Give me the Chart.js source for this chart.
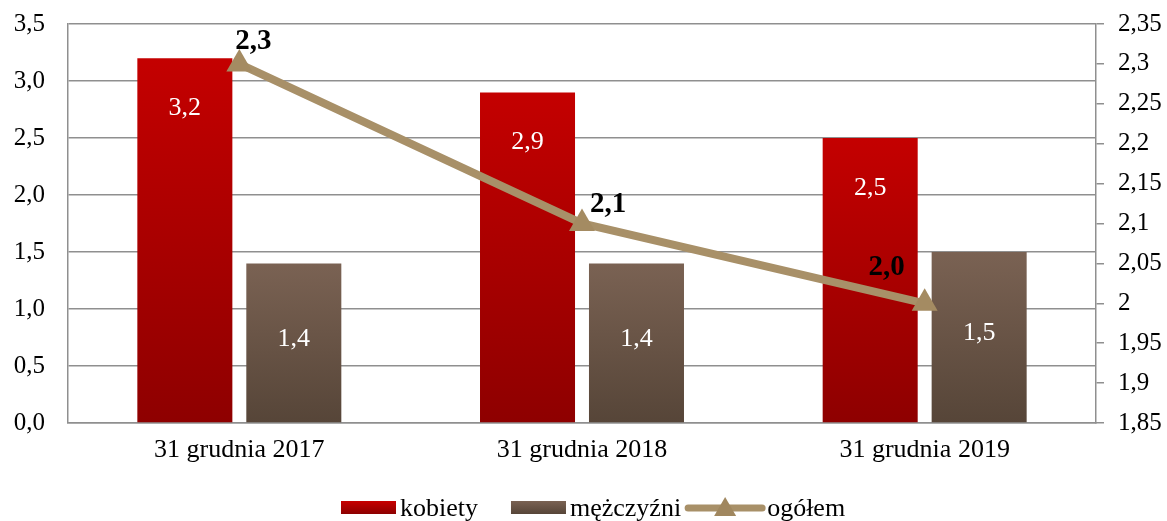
<!DOCTYPE html>
<html>
<head>
<meta charset="utf-8">
<script src="https://cdn.jsdelivr.net/npm/chart.js@4.4.1/dist/chart.umd.min.js"></script>
<style>
html,body{margin:0;padding:0;background:#fff;}
#wrap{width:1167px;height:521px;position:relative;}
</style>
</head>
<body>
<div id="wrap"><canvas id="c" width="1167" height="521"></canvas></div>
<script>
const categories = ['31 grudnia 2017', '31 grudnia 2018', '31 grudnia 2019'];
const kobiety = [3.2, 2.9, 2.5];
const mezczyzni = [1.4, 1.4, 1.5];
const ogolem = [2.3, 2.1, 2.0];
const leftTicks = [0, 0.5, 1.0, 1.5, 2.0, 2.5, 3.0, 3.5];
const rightTicks = [1.85, 1.9, 1.95, 2.0, 2.05, 2.1, 2.15, 2.2, 2.25, 2.3, 2.35];
const seriesNames = ['kobiety', 'mężczyźni', 'ogółem'];

const FONT = '"Liberation Serif", "Times New Roman", serif';
const GRID = '#8f8f8f';
const LINE = '#a89068';

function fmtLeft(v){ return v.toFixed(1).replace('.', ','); }
function fmtRight(v){ return String(+v.toFixed(2)).replace('.', ','); }

function barGradient(c1, c2){
  return function(ctx){
    const chart = ctx.chart;
    if (!chart.chartArea || ctx.type !== 'data') return c1;
    const y = chart.scales.y;
    const yt = y.getPixelForValue(ctx.raw);
    const yb = y.getPixelForValue(0);
    const g = chart.ctx.createLinearGradient(0, yt, 0, yb);
    g.addColorStop(0, c1);
    g.addColorStop(1, c2);
    return g;
  };
}

const labelPlugin = {
  id: 'labels',
  afterDatasetsDraw(chart){
    const ctx = chart.ctx;
    ctx.save();
    ctx.textAlign = 'center';
    ctx.textBaseline = 'middle';
    ctx.fillStyle = '#ffffff';
    ctx.font = '26px ' + FONT;
    chart.getDatasetMeta(0).data.forEach((el, i) => {
      ctx.fillText(fmtLeft(kobiety[i]), el.x, el.y + 50);
    });
    chart.getDatasetMeta(1).data.forEach((el, i) => {
      ctx.fillText(fmtLeft(mezczyzni[i]), el.x, (el.y + el.base) / 2 - 4);
    });
    const offs = [[14, -22], [26, -19], [-38, -36]];
    ctx.fillStyle = '#000000';
    ctx.font = 'bold 29px ' + FONT;
    chart.getDatasetMeta(2).data.forEach((el, i) => {
      ctx.fillText(fmtLeft(ogolem[i]), el.x + offs[i][0], el.y + offs[i][1]);
    });
    ctx.restore();
  }
};

const legendPlugin = {
  id: 'customLegend',
  afterDraw(chart){
    const ctx = chart.ctx;
    ctx.save();
    ctx.font = '26px ' + FONT;
    ctx.textBaseline = 'middle';
    ctx.textAlign = 'left';
    const yc = 508;
    const boxW = 55, lineW = 82, gapT = 4, gapI = 33;
    let x = 341;
    let g = ctx.createLinearGradient(0, yc - 7, 0, yc + 6);
    g.addColorStop(0, '#c80000'); g.addColorStop(1, '#8c0000');
    ctx.fillStyle = g;
    ctx.fillRect(x, yc - 7, boxW, 13);
    ctx.fillStyle = '#000';
    ctx.fillText(seriesNames[0], x + boxW + gapT, yc + 1);
    x += boxW + gapT + ctx.measureText(seriesNames[0]).width + gapI;
    g = ctx.createLinearGradient(0, yc - 7, 0, yc + 6);
    g.addColorStop(0, '#7a6253'); g.addColorStop(1, '#564538');
    ctx.fillStyle = g;
    ctx.fillRect(x, yc - 7, boxW, 13);
    ctx.fillStyle = '#000';
    ctx.fillText(seriesNames[1], x + boxW + gapT, yc + 1);
    x += boxW + gapT + ctx.measureText(seriesNames[1]).width + 3;
    ctx.strokeStyle = LINE;
    ctx.lineWidth = 7;
    ctx.lineCap = 'round';
    ctx.beginPath();
    ctx.moveTo(x + 4, yc); ctx.lineTo(x + lineW - 4, yc);
    ctx.stroke();
    ctx.fillStyle = '#a0875f';
    const cx = x + lineW / 2;
    ctx.beginPath();
    ctx.moveTo(cx, yc - 11); ctx.lineTo(cx + 11, yc + 8); ctx.lineTo(cx - 11, yc + 8);
    ctx.closePath(); ctx.fill();
    ctx.fillStyle = '#000';
    ctx.fillText(seriesNames[2], x + lineW + 1, yc + 1);
    ctx.restore();
  }
};

new Chart(document.getElementById('c'), {
  data: {
    labels: categories,
    datasets: [
      {
        type: 'bar', label: seriesNames[0], data: kobiety, yAxisID: 'y', order: 2,
        backgroundColor: barGradient('#c40000', '#8e0000'),
        categoryPercentage: 0.636, barPercentage: 0.872, borderWidth: 0
      },
      {
        type: 'bar', label: seriesNames[1], data: mezczyzni, yAxisID: 'y', order: 2,
        backgroundColor: barGradient('#7a6253', '#564538'),
        categoryPercentage: 0.636, barPercentage: 0.872, borderWidth: 0
      },
      {
        type: 'line', label: seriesNames[2], data: ogolem, yAxisID: 'y1', order: 0,
        borderColor: LINE, borderWidth: 8, tension: 0, fill: false,
        pointStyle: 'triangle', pointRadius: 15, pointHoverRadius: 15,
        pointBackgroundColor: '#a48b62', pointBorderWidth: 0, clip: false
      }
    ]
  },
  options: {
    responsive: false,
    animation: false,
    devicePixelRatio: 1,
    layout: { padding: { top: 24, bottom: 48, left: 0, right: 0 } },
    plugins: { legend: { display: false }, tooltip: { enabled: false } },
    scales: {
      x: {
        offset: true,
        grid: { display: false, drawTicks: false },
        border: { display: true, color: GRID, width: 1.5 },
        ticks: { color: '#000', font: { family: FONT, size: 26 }, padding: 12, maxRotation: 0 },
        afterFit(s){ s.height = 50; }
      },
      y: {
        position: 'left', min: 0, max: 3.5,
        afterBuildTicks(s){ s.ticks = leftTicks.map(v => ({ value: v })); },
        grid: { color: GRID, lineWidth: 1.5, drawTicks: false },
        border: { display: true, color: GRID, width: 1.5 },
        ticks: { color: '#000', font: { family: FONT, size: 25 }, padding: 23,
                 callback: v => fmtLeft(v) },
        afterFit(s){ s.width = 68; s.paddingTop = 0; s.paddingBottom = 0; }
      },
      y1: {
        position: 'right', min: 1.85, max: 2.35,
        afterBuildTicks(s){ s.ticks = rightTicks.map(v => ({ value: v })); },
        grid: { drawOnChartArea: false, drawTicks: true, tickLength: 8, color: GRID, lineWidth: 1.5 },
        border: { display: true, color: GRID, width: 1.5 },
        ticks: { color: '#000', font: { family: FONT, size: 25 }, padding: 14,
                 callback: v => fmtRight(v) },
        afterFit(s){ s.width = 71; s.paddingTop = 0; s.paddingBottom = 0; }
      }
    }
  },
  plugins: [labelPlugin, legendPlugin]
});
</script>
</body>
</html>
